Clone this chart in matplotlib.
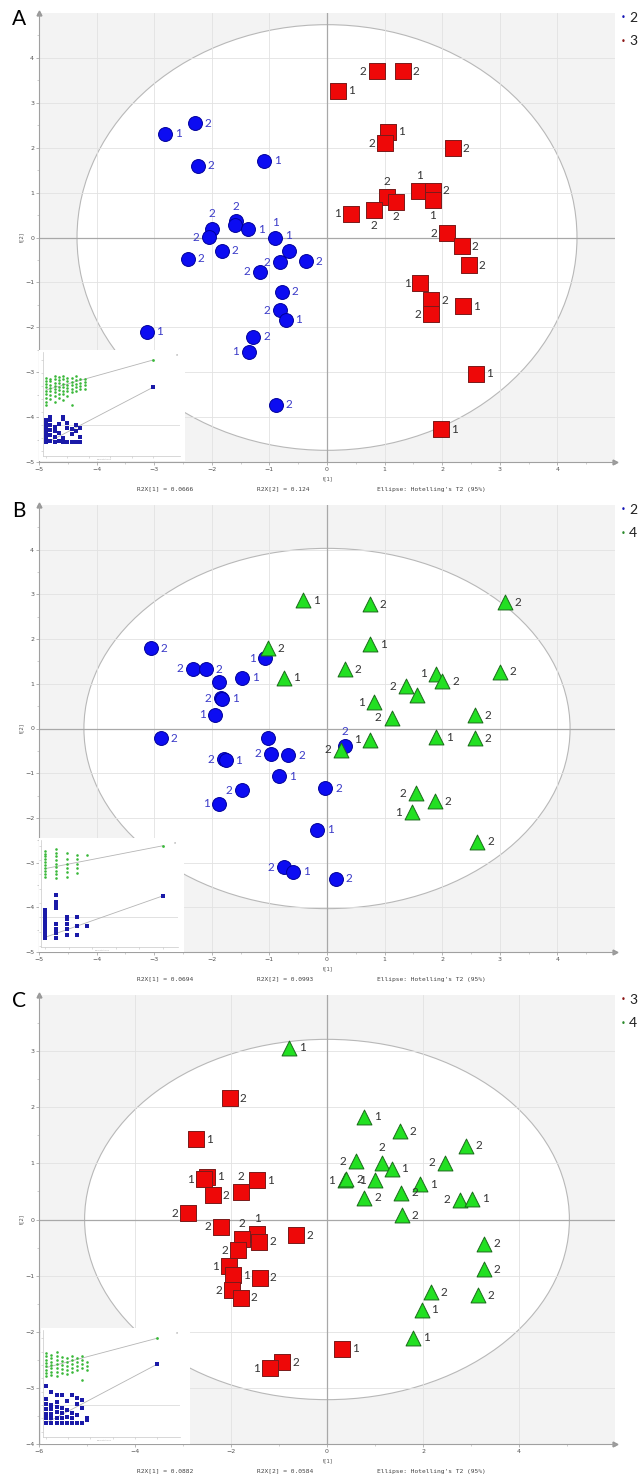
import matplotlib.pyplot as plt
from matplotlib.patches import Ellipse, Rectangle
from matplotlib.ticker import MultipleLocator

W, H = 643, 1481

# ---------------- panel A : groups 2 (circles) and 3 (squares)
a_groups = ['2', '3']
a_blue_x = [-2.81, -2.29, -2.24, -1.09, -2.00, -2.05, -1.58, -1.59, -1.37, -1.83, -2.42, -0.90,
            -0.66, -0.81, -0.37, -1.16, -0.78, -0.81, -0.72, -3.13, -1.28, -1.36, -0.89]
a_blue_y = [2.31, 2.54, 1.60, 1.71, 0.19, 0.01, 0.36, 0.27, 0.18, -0.29, -0.47, 0.00,
            -0.30, -0.55, -0.53, -0.76, -1.21, -1.62, -1.83, -2.10, -2.21, -2.55, -3.72]
a_blue_lab = ['1', '2', '2', '1', '2', '2', '2', '', '1', '2', '2', '1',
              '1', '2', '2', '2', '2', '2', '1', '1', '2', '1', '2']
a_blue_side = ['r', 'r', 'r', 'r', 'a', 'l', 'a', 'r', 'r', 'r', 'r', 'a',
               'a', 'l', 'r', 'l', 'r', 'l', 'r', 'r', 'r', 'l', 'r']

a_red_x = [0.86, 1.32, 0.19, 1.06, 1.00, 2.18, 1.04, 1.20, 1.60, 1.84, 1.84, 0.81,
           0.41, 2.08, 2.34, 2.46, 1.62, 1.81, 1.80, 2.36, 2.59, 1.98]
a_red_y = [3.70, 3.70, 3.27, 2.36, 2.10, 1.99, 0.90, 0.80, 1.04, 1.04, 0.84, 0.61,
           0.53, 0.10, -0.19, -0.62, -1.02, -1.40, -1.71, -1.53, -3.04, -4.27]
a_red_lab = ['2', '2', '1', '1', '2', '2', '2', '2', '1', '2', '1', '2',
             '1', '2', '2', '2', '1', '2', '2', '1', '1', '1']
a_red_side = ['l', 'r', 'r', 'r', 'l', 'r', 'a', 'b', 'a', 'r', 'b', 'b',
              'l', 'l', 'r', 'r', 'l', 'r', 'l', 'r', 'r', 'r']

# ---------------- panel B : groups 2 (circles) and 4 (triangles)
b_groups = ['2', '4']
b_blue_x = [-3.06, -2.32, -2.10, -1.87, -1.84, -1.82, -1.47, -1.07, -1.94, -1.87, -0.17, -0.75,
            -0.59, 0.15, -2.88, -1.78, -1.76, -1.02, -0.97, -0.67, -0.83, -1.47, -0.03, 0.31]
b_blue_y = [1.79, 1.34, 1.33, 1.04, 0.68, 0.67, 1.14, 1.57, 0.31, -1.68, -2.27, -3.10,
            -3.21, -3.36, -0.22, -0.69, -0.71, -0.22, -0.56, -0.60, -1.07, -1.38, -1.34, -0.40]
b_blue_lab = ['2', '2', '2', '', '2', '1', '1', '1', '1', '1', '1', '2',
              '1', '2', '2', '2', '1', '', '2', '2', '1', '2', '2', '2']
b_blue_side = ['r', 'l', 'r', 'r', 'l', 'r', 'r', 'l', 'l', 'l', 'r', 'l',
               'r', 'r', 'r', 'l', 'r', 'r', 'l', 'r', 'r', 'l', 'r', 'a']

b_green_x = [-0.41, 0.74, 3.09, 0.75, -1.03, -0.75, 0.31, 1.90, 2.00, 3.00, 1.38, 1.57,
             0.82, 1.12, 2.57, 2.57, 1.90, 0.75, 0.25, 1.54, 1.87, 1.47, 2.61]
b_green_y = [2.87, 2.78, 2.82, 1.89, 1.80, 1.13, 1.32, 1.23, 1.06, 1.27, 0.95, 0.76,
             0.59, 0.24, 0.30, -0.22, -0.20, -0.25, -0.47, -1.45, -1.63, -1.87, -2.53]
b_green_lab = ['1', '2', '2', '1', '2', '1', '2', '1', '2', '2', '2', '',
               '1', '2', '2', '2', '1', '1', '2', '2', '2', '1', '2']
b_green_side = ['r', 'r', 'r', 'r', 'r', 'r', 'r', 'l', 'r', 'r', 'l', 'r',
                'l', 'l', 'r', 'r', 'r', 'l', 'l', 'l', 'r', 'l', 'r']

# ---------------- panel C : groups 3 (squares) and 4 (triangles)
c_groups = ['3', '4']
c_red_x = [-2.02, -2.72, -2.50, -2.57, -1.46, -1.79, -2.38, -2.90, -2.20, -1.45, -1.77, -1.41,
           -0.64, -1.85, -2.04, -1.95, -1.40, -1.97, -1.79, 0.31, -0.93, -1.19]
c_red_y = [2.16, 1.43, 0.76, 0.72, 0.70, 0.49, 0.43, 0.11, -0.13, -0.26, -0.34, -0.40,
           -0.28, -0.55, -0.83, -0.99, -1.04, -1.26, -1.39, -2.30, -2.54, -2.65]
c_red_lab = ['2', '1', '1', '1', '1', '2', '2', '2', '2', '1', '2', '2',
             '2', '2', '1', '1', '2', '2', '2', '1', '2', '1']
c_red_side = ['r', 'r', 'r', 'l', 'r', 'a', 'r', 'l', 'l', 'a', 'a', 'r',
              'r', 'l', 'l', 'r', 'r', 'l', 'r', 'r', 'r', 'l']

c_green_x = [-0.79, 0.78, 1.52, 2.89, 0.61, 1.14, 1.35, 2.46, 0.37, 0.40, 1.01, 1.94,
             1.55, 0.78, 2.78, 3.02, 1.56, 3.27, 3.27, 2.16, 3.14, 1.97, 1.79]
c_green_y = [3.06, 1.83, 1.57, 1.31, 1.04, 1.01, 0.90, 1.01, 0.70, 0.72, 0.70, 0.63,
             0.48, 0.39, 0.35, 0.37, 0.08, -0.43, -0.89, -1.30, -1.35, -1.61, -2.11]
c_green_lab = ['1', '1', '2', '2', '2', '2', '1', '2', '1', '2', '1', '1',
               '2', '2', '2', '1', '2', '2', '2', '2', '2', '1', '1']
c_green_side = ['r', 'r', 'r', 'r', 'l', 'a', 'r', 'l', 'l', 'r', 'l', 'r',
                'r', 'r', 'l', 'r', 'r', 'r', 'r', 'r', 'r', 'r', 'r']

# ---------------- permutation insets (R2 green, Q2 blue), column x and y values
a_r2_x = [0.0]*9 + [0.04]*7 + [0.08]*8 + [0.12]*7 + [0.16]*7 + [0.20]*6 + [0.24]*6 + [0.28]*5 + [0.32]*4 + [0.36]*4
a_r2_y = [0.31, 0.35, 0.42, 0.48, 0.53, 0.58, 0.63, 0.68, 0.72,
          0.40, 0.46, 0.52, 0.57, 0.62, 0.67, 0.71,
          0.36, 0.44, 0.50, 0.55, 0.60, 0.65, 0.70, 0.76,
          0.42, 0.48, 0.54, 0.59, 0.64, 0.69, 0.74,
          0.38, 0.47, 0.53, 0.58, 0.63, 0.70, 0.76,
          0.45, 0.52, 0.57, 0.62, 0.68, 0.73,
          0.31, 0.50, 0.56, 0.61, 0.66, 0.72,
          0.52, 0.58, 0.63, 0.69, 0.75,
          0.55, 0.60, 0.65, 0.70,
          0.56, 0.61, 0.66, 0.70]
a_q2_x = [0.0]*7 + [0.04]*6 + [0.08]*4 + [0.12]*3 + [0.16]*4 + [0.20]*3 + [0.24]*3 + [0.28]*3 + [0.32]*3
a_q2_y = [-0.26, -0.20, -0.14, -0.08, -0.02, 0.04, 0.08,
          -0.24, -0.16, -0.08, 0.00, 0.07, 0.12,
          -0.26, -0.18, -0.10, -0.03,
          -0.25, -0.12, 0.02,
          -0.26, -0.20, 0.09, 0.13,
          -0.26, -0.05, 0.03,
          -0.26, -0.14, -0.06,
          -0.26, -0.10, 0.00,
          -0.26, -0.18, -0.05]
a_perm_end = [1.0, 0.58]
a_perm_start = [0.54, -0.28]

b_r2_x = [0.0]*10 + [0.093]*9 + [0.186]*6 + [0.27]*5 + [0.356]
b_r2_y = [0.57, 0.61, 0.65, 0.69, 0.73, 0.77, 0.81, 0.85, 0.89, 0.93,
          0.55, 0.60, 0.65, 0.70, 0.75, 0.80, 0.85, 0.90, 0.96,
          0.57, 0.63, 0.69, 0.75, 0.81, 0.90,
          0.62, 0.69, 0.75, 0.82, 0.87,
          0.87]
b_q2_x = [0.0]*9 + [0.093]*8 + [0.186]*5 + [0.27]*3 + [0.356]
b_q2_y = [-0.29, -0.24, -0.19, -0.14, -0.09, -0.04, 0.01, 0.06, 0.10,
          -0.29, -0.22, -0.16, -0.10, 0.13, 0.17, 0.21, 0.31,
          -0.25, -0.17, -0.10, -0.03, 0.00,
          -0.25, -0.12, 0.00,
          -0.12]
b_perm_end = [1.0, 0.30]
b_perm_start = [0.68, -0.28]

c_r2_x = [0.0]*8 + [0.045]*7 + [0.095]*7 + [0.14]*5 + [0.19]*5 + [0.235]*5 + [0.28]*4 + [0.325]*5 + [0.37]*3
c_r2_y = [0.43, 0.48, 0.53, 0.58, 0.63, 0.68, 0.73, 0.78,
          0.45, 0.50, 0.55, 0.60, 0.65, 0.70, 0.75,
          0.44, 0.50, 0.56, 0.62, 0.68, 0.74, 0.80,
          0.48, 0.54, 0.60, 0.66, 0.72,
          0.46, 0.52, 0.58, 0.64, 0.70,
          0.50, 0.56, 0.62, 0.68, 0.74,
          0.52, 0.58, 0.64, 0.70,
          0.37, 0.55, 0.61, 0.67, 0.73,
          0.52, 0.58, 0.64]
c_q2_x = [0.0]*7 + [0.045]*6 + [0.095]*6 + [0.14]*5 + [0.19]*4 + [0.235]*4 + [0.28]*4 + [0.325]*3 + [0.37]*2
c_q2_y = [-0.27, -0.20, -0.13, -0.06, 0.02, 0.09, 0.29,
          -0.27, -0.20, -0.13, -0.06, 0.00, 0.20,
          -0.27, -0.19, -0.11, -0.03, 0.05, 0.15,
          -0.27, -0.20, -0.12, -0.04, 0.15,
          -0.27, -0.18, -0.08, 0.06,
          -0.27, -0.20, -0.12, 0.15,
          -0.27, -0.15, 0.02, 0.10,
          -0.27, -0.05, 0.07,
          -0.23, -0.20]
c_perm_end = [1.0, 0.61]
c_perm_start = [0.56, -0.27]

a_notes = ['R2X[1] = 0.0666', 'R2X[2] = 0.124', "Ellipse: Hotelling's T2 (95%)"]
b_notes = ['R2X[1] = 0.0694', 'R2X[2] = 0.0993', "Ellipse: Hotelling's T2 (95%)"]
c_notes = ['R2X[1] = 0.0882', 'R2X[2] = 0.0584', "Ellipse: Hotelling's T2 (95%)"]

# ---------------- styles
BLUE = dict(marker='o', s=100, c='#0c0cf2', edgecolors='#00009a', tc='#3a3ac8')
RED = dict(marker='s', s=125, c='#ee0808', edgecolors='#7a1a1a', tc='#333333')
GREEN = dict(marker='^', s=115, c='#22e022', edgecolors='#1a6a1a', tc='#333333')
LEG_COL = {'2': '#1515b5', '3': '#8b1515', '4': '#2a8a2a'}
OFF = {'r': (9.5, 0), 'l': (-9.5, 0), 'a': (0, 11), 'b': (0, -11)}
LABFONT = ['Lato', 'DejaVu Sans']


def box(l, t, r, b):
    return [l / W, 1 - b / H, (r - l) / W, (b - t) / H]


fig = plt.figure(figsize=(W / 100, H / 100), dpi=100)


def draw_points(ax, xs, ys, labs, sides, st):
    ax.scatter(xs, ys, marker=st['marker'], s=st['s'], c=st['c'],
               edgecolors=st['edgecolors'], linewidths=0.7, zorder=3)
    for x, y, lab, sd in zip(xs, ys, labs, sides):
        if lab:
            ax.annotate(lab, (x, y), xytext=OFF[sd], textcoords='offset points',
                        ha='center', va='center', fontsize=8.5, color=st['tc'],
                        family=LABFONT, zorder=4)


def panel(top, bot, xlim, ylim, xstep, ell, letter, groups, notes):
    ax = fig.add_axes(box(39, top, 615, bot))
    ax.set_facecolor('#f3f3f3')
    ax.set_xlim(*xlim)
    ax.set_ylim(*ylim)
    ax.add_patch(Ellipse((0, 0), 2 * ell[0], 2 * ell[1], fc='white', ec='#b8b8b8',
                         lw=0.8, zorder=0.2))
    gx = range(int(xlim[0]) + xstep, int(xlim[1]), xstep)
    for g in gx:
        ax.axvline(g, color='#e2e2e2', lw=0.6, zorder=0.3)
    for g in range(int(ylim[0]) + 1, int(ylim[1])):
        ax.axhline(g, color='#e2e2e2', lw=0.6, zorder=0.3)
    ax.axvline(0, color='#a8a8a8', lw=0.9, zorder=0.4)
    ax.axhline(0, color='#a8a8a8', lw=0.9, zorder=0.4)
    for s in ['top', 'right']:
        ax.spines[s].set_visible(False)
    for s in ['left', 'bottom']:
        ax.spines[s].set_color('#a0a0a0')
        ax.spines[s].set_linewidth(0.8)
    ax.set_xticks(list(range(int(xlim[0]), int(xlim[1]), xstep)))
    ax.set_yticks(list(range(int(ylim[0]), int(ylim[1]))))
    ax.xaxis.set_minor_locator(MultipleLocator(xstep / 2))
    ax.yaxis.set_minor_locator(MultipleLocator(0.5))
    ax.tick_params(labelsize=4.5, labelcolor='#555555', length=2, width=0.5,
                   color='#999999', pad=1.5)
    ax.tick_params(which='minor', length=1.2, width=0.4, color='#aaaaaa')
    ax.plot(1, 0, '>', transform=ax.transAxes, clip_on=False, color='#999999', ms=3.5)
    ax.plot(0, 1, '^', transform=ax.transAxes, clip_on=False, color='#999999', ms=3.5)

    y0 = top + (bot - top) * ylim[1] / (ylim[1] - ylim[0])
    fig.text(22 / W, 1 - y0 / H, 't[2]', rotation=90, fontsize=4, color='#555555',
             ha='center', va='center')
    fig.text(328 / W, 1 - (bot + 17) / H, 't[1]', fontsize=4, color='#555555',
             ha='center', va='center')
    for xp, txt in zip([137, 257, 377], notes):
        fig.text(xp / W, 1 - (bot + 27) / H, txt, fontsize=4.5, family='DejaVu Sans Mono',
                 color='#444444', ha='left', va='center')
    fig.text(19 / W, 1 - (top + 6) / H, letter, fontsize=15, family=LABFONT,
             ha='center', va='center')
    for k, g in enumerate(groups):
        yy = 1 - (top + 5 + 23 * k) / H
        fig.text(623 / W, yy, '\u2022', fontsize=6, color=LEG_COL[g], ha='center', va='center')
        fig.text(629 / W, yy, g, fontsize=10, family=LABFONT, color='#222222',
                 ha='left', va='center')
    return ax


def inset(white, axbox, xlim, ylim, r2x, r2y, q2x, q2y, start, end):
    l, t, r, b = white
    fig.add_artist(Rectangle((l / W, 1 - b / H), (r - l) / W, (b - t) / H,
                             transform=fig.transFigure, fc='white', ec='none', zorder=1))
    iax = fig.add_axes(box(*axbox), zorder=2)
    iax.set_facecolor('none')
    iax.set_xlim(*xlim)
    iax.set_ylim(*ylim)
    for s in ['top', 'right']:
        iax.spines[s].set_visible(False)
    for s in ['left', 'bottom']:
        iax.spines[s].set_color('#c8c8c8')
        iax.spines[s].set_linewidth(0.5)
    iax.set_xticks([0, 0.2, 0.4, 0.6, 0.8, 1.0])
    iax.set_yticks([-0.4, -0.2, 0, 0.2, 0.4, 0.6, 0.8, 1.0])
    iax.tick_params(length=1.2, width=0.4, color='#c0c0c0', labelleft=False, labelbottom=False)
    iax.axhline(0, color='#d5d5d5', lw=0.5)
    iax.plot([0, 1], [start[0], end[0]], color='#b5b5b5', lw=0.6)
    iax.plot([0, 1], [start[1], end[1]], color='#b5b5b5', lw=0.6)
    iax.scatter(r2x, r2y, s=3.5, c='#3ab83a', marker='o', linewidths=0, zorder=3)
    iax.scatter(q2x, q2y, s=5, c='#1a1aa8', marker='s', linewidths=0, zorder=3)
    iax.scatter([1], [end[0]], s=4, c='#3ab83a', marker='o', linewidths=0, zorder=3)
    iax.scatter([1], [end[1]], s=6, c='#1a1aa8', marker='s', linewidths=0, zorder=3)
    iax.text(0.99, 0.985, 'R2\nQ2', transform=iax.transAxes, fontsize=1.6,
             color='#999999', ha='right', va='top')
    iax.text(0.45, -0.03, 'permutations', transform=iax.transAxes, fontsize=1.6,
             color='#aaaaaa', ha='center', va='top')


# panel A
axA = panel(13, 462, (-5, 5), (-5, 5), 1, (4.34, 4.74), 'A', a_groups, a_notes)
draw_points(axA, a_blue_x, a_blue_y, a_blue_lab, a_blue_side, BLUE)
draw_points(axA, a_red_x, a_red_y, a_red_lab, a_red_side, RED)
inset((39, 350, 185, 461), (43, 352, 180, 456), (-0.028, 1.252), (-0.477, 1.123),
      a_r2_x, a_r2_y, a_q2_x, a_q2_y, a_perm_start, a_perm_end)

# panel B
axB = panel(505, 952, (-5, 5), (-5, 5), 1, (4.22, 4.03), 'B', b_groups, b_notes)
draw_points(axB, b_blue_x, b_blue_y, b_blue_lab, b_blue_side, BLUE)
draw_points(axB, b_green_x, b_green_y, b_green_lab, b_green_side, GREEN)
inset((39, 838, 184, 952), (41, 840, 178, 947), (-0.034, 1.127), (-0.415, 1.08),
      b_r2_x, b_r2_y, b_q2_x, b_q2_y, b_perm_start, b_perm_end)

# panel C
axC = panel(995, 1444, (-6, 6), (-4, 4), 2, (5.05, 3.21), 'C', c_groups, c_notes)
draw_points(axC, c_red_x, c_red_y, c_red_lab, c_red_side, RED)
draw_points(axC, c_green_x, c_green_y, c_green_lab, c_green_side, GREEN)
inset((41, 1328, 190, 1444), (43, 1330, 180, 1437), (-0.027, 1.207), (-0.48, 1.124),
      c_r2_x, c_r2_y, c_q2_x, c_q2_y, c_perm_start, c_perm_end)

fig.savefig('out.png', dpi=100)
